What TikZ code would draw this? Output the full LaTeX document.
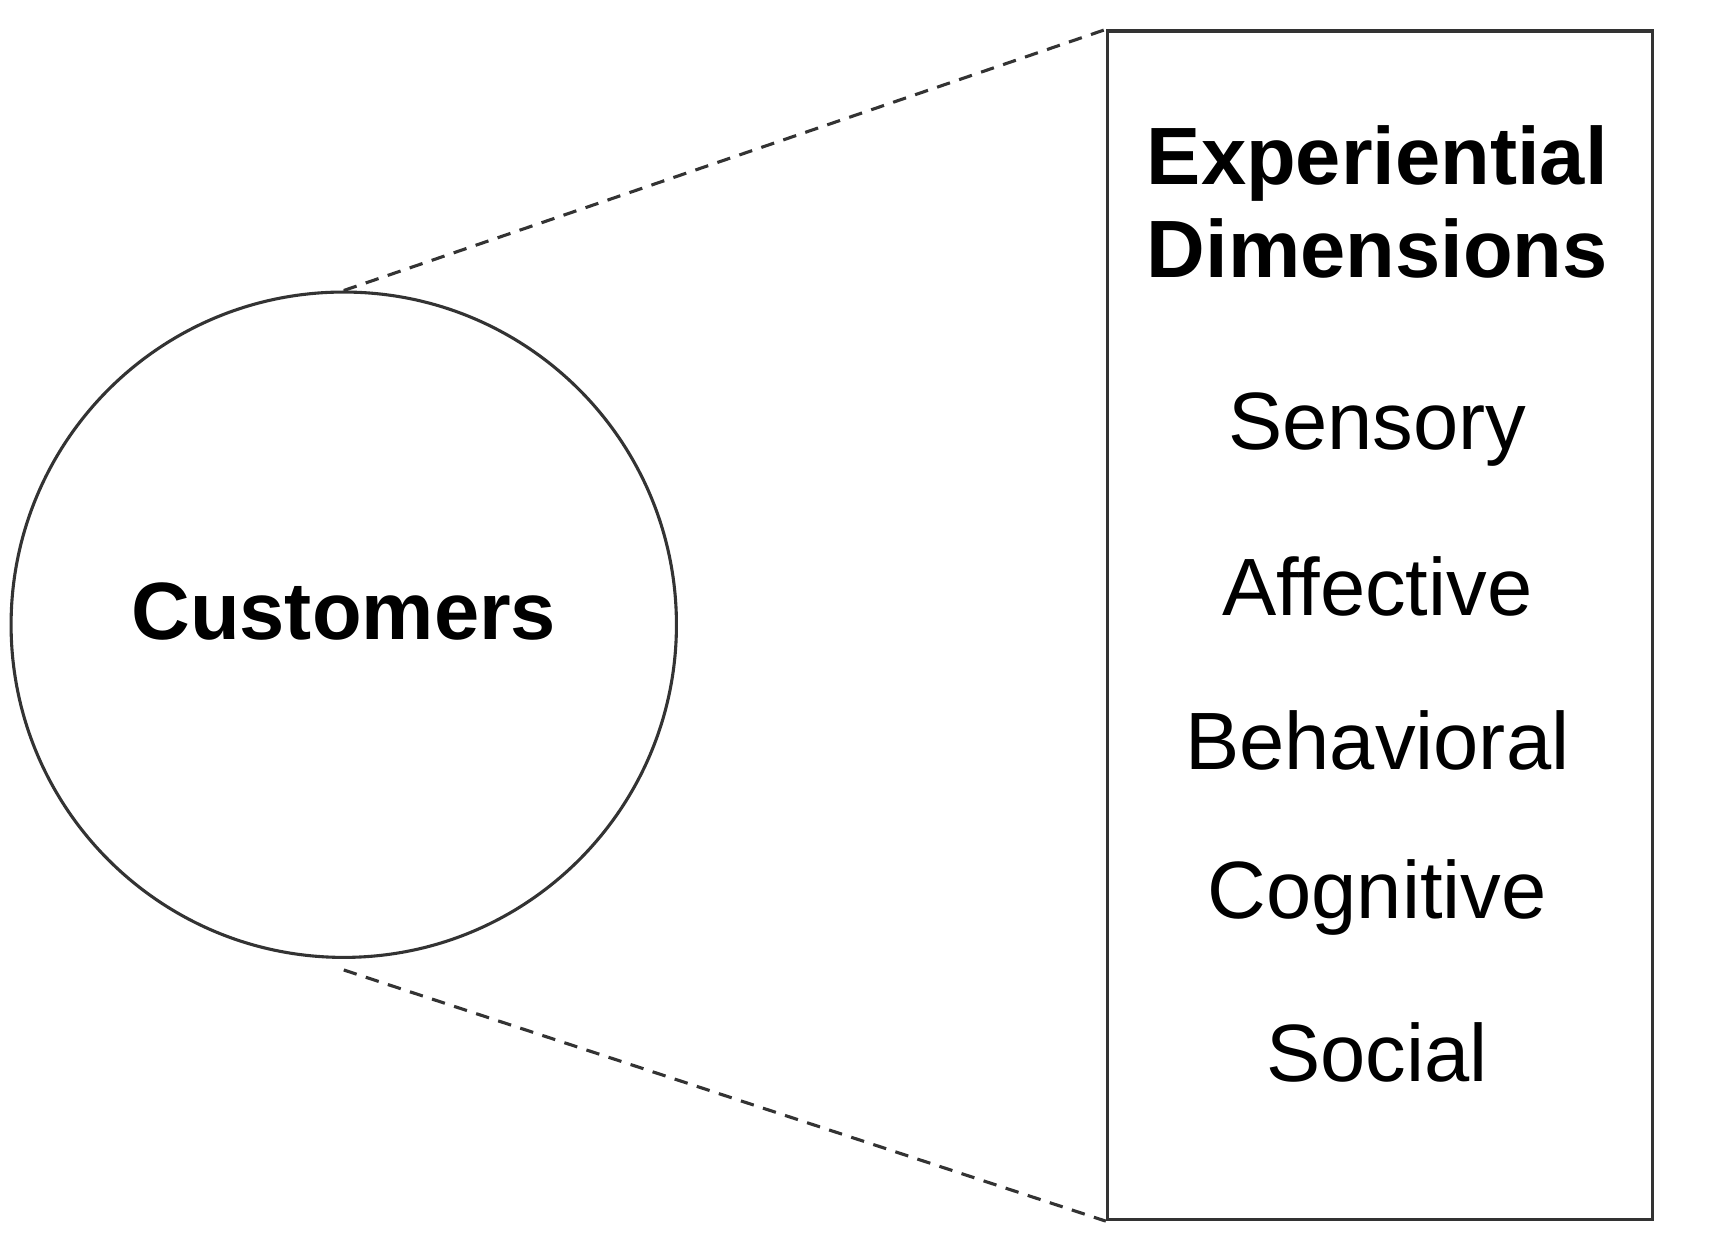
\documentclass[tikz,border=0pt]{standalone}
\usepackage{fontspec}
\setmainfont{Liberation Sans}
\begin{document}
\begin{tikzpicture}[x=0.02cm,y=-0.02cm,
  lbl/.style={font=\fontsize{42}{48}\selectfont, anchor=center},
  dashln/.style={line width=1.6pt, dash pattern=on 7pt off 5pt, color=black!80}]
\useasboundingbox (0,0) rectangle (1552,1135);
\node[circle, draw=black!80, line width=1.6pt, minimum size=12.08cm, inner sep=0] (c) at (312,567) {};
\node[lbl, font=\fontsize{42}{48}\selectfont\bfseries] (ct) at (312,555) {Customers};
\node[draw=black!80, line width=1.6pt, minimum width=9.9cm, minimum height=21.58cm, inner sep=0] (box) at (1252.5,567.5) {};
\node[lbl, font=\fontsize{42}{48}\selectfont\bfseries, align=center] (t) at (1250,183) {Experiential\\Dimensions};
\node[lbl] (s1) at (1250,390) {Sensory};
\node[lbl] (s2) at (1250,532) {Affective};
\node[lbl] (s3) at (1250,672) {Behavioral};
\node[lbl] (s4) at (1250,815) {Cognitive};
\node[lbl] (s5) at (1250,955) {Social};
\draw[dashln] (c.north) -- (box.north west);
\draw[dashln] ([yshift=-0.2cm]c.south) -- (box.south west);
\end{tikzpicture}
\end{document}
